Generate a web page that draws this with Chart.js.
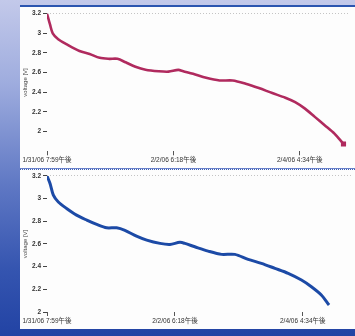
<!DOCTYPE html>
<html>
<head>
<meta charset="utf-8">
<script src="https://cdn.jsdelivr.net/npm/chart.js@4/dist/chart.umd.min.js"></script>
<style>
  html, body { margin: 0; padding: 0; }
  body {
    width: 355px; height: 336px; position: relative; overflow: hidden;
    background: linear-gradient(180deg, #c3c9ea 0%, #9eacde 25%, #5f78c4 55%, #3555b0 80%, #2243a4 100%);
  }
  .panel { position: absolute; left: 20px; width: 335px; background: #fdfdfd; }
  #p1 { top: 5px; height: 163px; border-top: 2px solid #2b55b0; box-sizing: border-box; }
  #p2 { top: 169px; height: 160px; border-top: 1px dotted #3a5fb8; box-sizing: border-box; }
  canvas { position: absolute; left: 20px; }
  #topChart { top: 7px; }
  #bottomChart { top: 170px; }
</style>
</head>
<body>
<div class="panel" id="p1"></div>
<div class="panel" id="p2"></div>
<canvas id="topChart" width="335" height="161"></canvas>
<canvas id="bottomChart" width="335" height="159"></canvas>
<script>
// hours since 1/31/06 7:59 PM
const xTickHours = [0, 46.32, 92.58];
const xTickLabels = ["1/31/06 7:59午後", "2/2/06 6:18午後", "2/4/06 4:34午後"];
const yTicks = [2, 2.2, 2.4, 2.6, 2.8, 3, 3.2];

const redHours = [0, 1.1, 2.1, 4.1, 7.1, 11.9, 15.6, 19.3, 22.8, 25.8, 28.8, 32.4, 36.1, 40.9, 44.5, 48.1,
  49.9, 53.5, 58.3, 63.2, 68, 72.8, 77.6, 82.5, 87.3, 90.9, 94.5, 98.1, 101.7, 105.3, 108.6];
const redVolts = [3.2, 3.09, 3.0, 2.94, 2.89, 2.82, 2.79, 2.75, 2.74, 2.74, 2.705, 2.66, 2.63, 2.614, 2.61, 2.628,
  2.614, 2.588, 2.547, 2.52, 2.52, 2.487, 2.443, 2.392, 2.345, 2.30, 2.234, 2.15, 2.066, 1.98, 1.874];

const blueHours = [0, 1.1, 2.3, 4.1, 7.1, 10.7, 14.4, 18, 21.6, 25.2, 28.2, 32.4, 36.1, 40.9, 44.5, 48.1,
  49.9, 53.5, 58.3, 63.2, 68, 72.8, 77.6, 82.5, 87.3, 92.1, 95.7, 99.3, 102.1];
const blueVolts = [3.2, 3.133, 3.03, 2.97, 2.913, 2.854, 2.81, 2.772, 2.742, 2.742, 2.72, 2.669, 2.634, 2.605, 2.596, 2.614,
  2.605, 2.575, 2.537, 2.508, 2.508, 2.464, 2.429, 2.385, 2.341, 2.282, 2.223, 2.15, 2.062];

Chart.defaults.font.family = "'Liberation Sans', 'Noto Sans CJK JP', sans-serif";
Chart.defaults.color = "#333";

function makeChart(id, hours, volts, color, yMin, xAxisHeight, width) {
  const pts = hours.map((h, i) => ({ x: h, y: volts[i] }));
  const last = pts.length - 1;
  return new Chart(document.getElementById(id), {
    type: "line",
    data: {
      datasets: [{
        data: pts,
        borderColor: color,
        backgroundColor: color,
        borderWidth: width,
        tension: 0.3,
        pointStyle: "rect",
        pointRadius: ctx => (id === "topChart" && ctx.dataIndex === last ? 1.8 : 0)
      }]
    },
    options: {
      responsive: false,
      animation: false,
      layout: { padding: { top: 5.7, right: 3, left: 0, bottom: 0 } },
      plugins: { legend: { display: false }, tooltip: { enabled: false } },
      scales: {
        x: {
          type: "linear",
          min: 0,
          max: 110.4,
          afterFit: s => { s.height = xAxisHeight; },
          afterBuildTicks: s => { s.ticks = xTickHours.map(v => ({ value: v })); },
          ticks: {
            font: { size: 6.5 },
            padding: 1,
            maxRotation: 0,
            autoSkip: false,
            callback: (v, i) => xTickLabels[i]
          },
          grid: { drawOnChartArea: false, color: "transparent", tickColor: "#555", tickLength: 4 },
          border: { display: false }
        },
        y: {
          min: yMin,
          max: 3.2,
          afterFit: s => { s.width = 27; },
          afterBuildTicks: s => { s.ticks = yTicks.map(v => ({ value: v })); },
          ticks: {
            font: { size: 6.5, weight: "bold" },
            padding: 2,
            callback: v => String(v)
          },
          title: {
            display: true,
            text: "voltage [V]",
            font: { size: 6 },
            color: "#444",
            padding: { top: 2, bottom: 0 }
          },
          grid: {
            color: ctx => (ctx.tick && ctx.tick.value === 3.2 ? "#c4c4c4" : "transparent"),
            tickColor: "#444",
            tickLength: 4
          },
          border: { display: false, dash: [1, 2] }
        }
      }
    }
  });
}

makeChart("topChart", redHours, redVolts, "#b02a5e", 1.8, 16.7, 2.6);
makeChart("bottomChart", blueHours, blueVolts, "#1c4aa6", 2, 17, 3);
</script>
</body>
</html>
